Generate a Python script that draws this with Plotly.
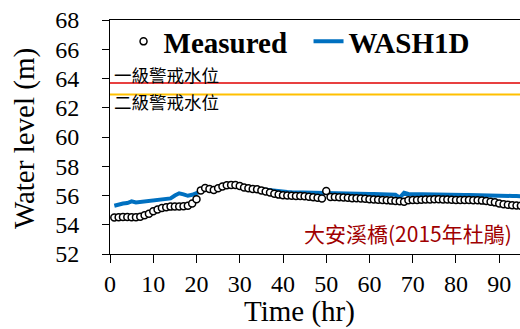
import plotly.graph_objects as go

hours = list(range(1, 96))

measured = [
    54.50, 54.52, 54.53, 54.53, 54.52, 54.52, 54.55, 54.65, 54.75, 54.92,
    55.05, 55.15, 55.20, 55.24, 55.25, 55.25, 55.26, 55.30, 55.45, 55.75,
    56.35, 56.52, 56.45, 56.38, 56.50, 56.62, 56.70, 56.72, 56.72, 56.65,
    56.55, 56.50, 56.45, 56.42, 56.35, 56.28, 56.20, 56.12, 56.06, 56.02,
    56.00, 55.98, 55.97, 55.96, 55.95, 55.92, 55.88, 55.84, 55.80, 56.30,
    55.90, 55.90, 55.88, 55.86, 55.84, 55.82, 55.81, 55.79, 55.77, 55.75,
    55.73, 55.71, 55.69, 55.67, 55.65, 55.63, 55.60, 55.57, 55.68, 55.70,
    55.70, 55.71, 55.72, 55.73, 55.74, 55.74, 55.73, 55.72, 55.71, 55.70,
    55.70, 55.69, 55.69, 55.68, 55.67, 55.65, 55.62, 55.58, 55.53, 55.46,
    55.40, 55.36, 55.33, 55.31, 55.30,
]

wash1d = [
    55.30, 55.40, 55.45, 55.48, 55.60, 55.52, 55.55, 55.58, 55.60, 55.62,
    55.65, 55.68, 55.72, 55.80, 56.00, 56.15, 56.08, 55.98, 56.05, 56.15,
    56.30, 56.40, 56.42, 56.45, 56.50, 56.58, 56.62, 56.65, 56.66, 56.65,
    56.62, 56.58, 56.52, 56.48, 56.42, 56.38, 56.34, 56.30, 56.27, 56.25,
    56.24, 56.22, 56.21, 56.20, 56.20, 56.19, 56.18, 56.17, 56.16, 56.15,
    56.15, 56.14, 56.14, 56.13, 56.13, 56.12, 56.12, 56.11, 56.11, 56.10,
    56.10, 56.09, 56.08, 56.07, 56.06, 56.05, 55.85, 56.18, 56.10, 56.10,
    56.09, 56.09, 56.08, 56.08, 56.07, 56.07, 56.06, 56.06, 56.05, 56.05,
    56.04, 56.04, 56.03, 56.03, 56.02, 56.02, 56.01, 56.01, 56.00, 56.00,
    55.99, 55.98, 55.97, 55.96, 55.95,
]

warn_x = [0, 95]
warn1_level = 63.7
warn2_level = 62.9
warn1_label = "一級警戒水位"
warn2_label = "二級警戒水位"
station_label = "大安溪橋(2015年杜鵑)"
x_title = "Time (hr)"
y_title = "Water level (m)"

x_ticks = [0, 10, 20, 30, 40, 50, 60, 70, 80, 90]
y_ticks = [52, 54, 56, 58, 60, 62, 64, 66, 68]

serif = "Liberation Serif"
cjk = "Noto Sans CJK TC"

fig = go.Figure()

fig.add_trace(go.Scatter(
    x=warn_x, y=[warn1_level] * len(warn_x), mode="lines",
    line=dict(color="#E00000", width=1.5), showlegend=False, hoverinfo="skip"))
fig.add_trace(go.Scatter(
    x=warn_x, y=[warn2_level] * len(warn_x), mode="lines",
    line=dict(color="#FFC000", width=2), showlegend=False, hoverinfo="skip"))

fig.add_trace(go.Scatter(
    x=hours, y=wash1d, mode="lines", name="WASH1D", legendrank=2,
    line=dict(color="#0070C0", width=4)))
fig.add_trace(go.Scatter(
    x=hours, y=measured, mode="markers", name="Measured", legendrank=1,
    marker=dict(symbol="circle", size=7, color="white",
                line=dict(color="black", width=1.5))))

fig.add_annotation(x=0.5, y=warn1_level, xref="x", yref="y", text=warn1_label,
                   showarrow=False, xanchor="left", yanchor="middle", yshift=8,
                   font=dict(family=cjk, size=17.5, color="black"))
fig.add_annotation(x=0.5, y=warn2_level, xref="x", yref="y", text=warn2_label,
                   showarrow=False, xanchor="left", yanchor="middle", yshift=-7,
                   font=dict(family=cjk, size=17.5, color="black"))
fig.add_annotation(x=93.3, y=53.45, xref="x", yref="y", text=station_label,
                   showarrow=False, xanchor="right", yanchor="middle",
                   font=dict(family=cjk, size=21, color="#A00000"))

fig.add_annotation(x=0, y=0.491, xref="paper", yref="paper", text=y_title,
                   textangle=-90, showarrow=False, xanchor="center", yanchor="middle",
                   xshift=-86, font=dict(family=serif, size=29, color="black"))
fig.add_annotation(x=0.463, y=0, xref="paper", yref="paper", text=x_title,
                   showarrow=False, xanchor="center", yanchor="middle",
                   yshift=-57, font=dict(family=serif, size=29, color="black"))

fig.update_layout(
    width=520, height=329,
    margin=dict(l=110, r=0, t=20, b=75),
    paper_bgcolor="white", plot_bgcolor="white",
    showlegend=True,
    legend=dict(orientation="h", x=0.033, y=1.017, xanchor="left", yanchor="top",
                bgcolor="rgba(0,0,0,0)",
                font=dict(family=serif, size=29, color="black", weight="bold"),
                itemwidth=30, entrywidth=140, entrywidthmode="pixels",
                tracegroupgap=0),
    xaxis=dict(range=[0, 94.8], tickvals=x_ticks, showgrid=False, zeroline=False,
               showline=True, linecolor="black", linewidth=1, mirror=True,
               ticks="outside", ticklen=8, tickcolor="black",
               tickfont=dict(family=serif, size=24, color="black")),
    yaxis=dict(range=[52, 68], tickvals=y_ticks, showgrid=False, zeroline=False,
               showline=True, linecolor="black", linewidth=1,
               ticks="outside", ticklen=7, tickcolor="black", ticklabelstandoff=18,
               tickfont=dict(family=serif, size=24, color="black")),
)

fig.write_html("out.html")
